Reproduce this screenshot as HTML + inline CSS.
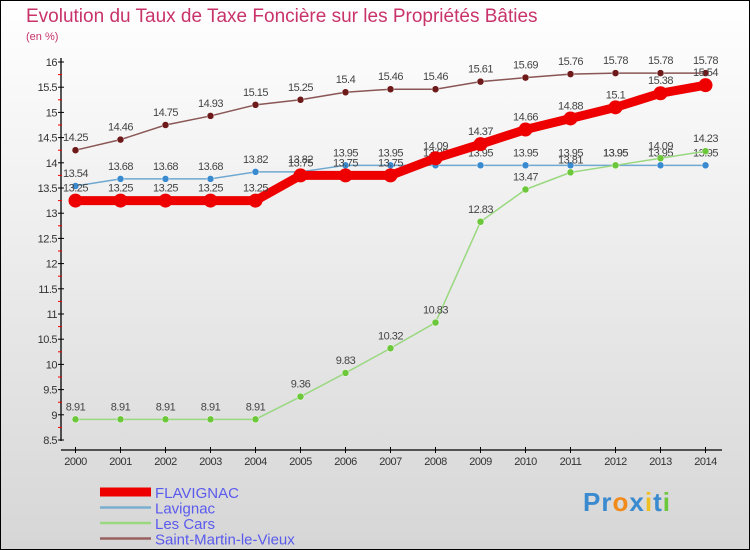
<!DOCTYPE html>
<html><head><meta charset="utf-8"><style>
body{margin:0;width:750px;height:550px;overflow:hidden;font-family:"Liberation Sans",sans-serif}
svg{display:block}
</style></head><body>
<svg id="chart" width="750" height="550" xmlns="http://www.w3.org/2000/svg">
<defs><linearGradient id="bg" x1="0" y1="0" x2="0" y2="1"><stop offset="0" stop-color="#ffffff"/><stop offset="1" stop-color="#d6d6d6"/></linearGradient></defs>
<rect x="0.5" y="0.5" width="749" height="549" fill="url(#bg)" stroke="#000"/>
<text x="26" y="22" font-size="19" fill="#c8336a">Evolution du Taux de Taxe Foncière sur les Propriétés Bâties</text>
<text x="26" y="40" font-size="11" fill="#c8336a">(en %)</text>
<g id="axes"></g>
<g id="series"></g>
<g id="legend"></g>
</svg>
<script>
const years=[2000,2001,2002,2003,2004,2005,2006,2007,2008,2009,2010,2011,2012,2013,2014];
const yTicks=[8.5,9,9.5,10,10.5,11,11.5,12,12.5,13,13.5,14,14.5,15,15.5,16];
const flavignac=[13.25,13.25,13.25,13.25,13.25,13.75,13.75,13.75,14.09,14.37,14.66,14.88,15.1,15.38,15.54];
const lavignac=[13.54,13.68,13.68,13.68,13.82,13.82,13.95,13.95,13.95,13.95,13.95,13.95,13.95,13.95,13.95];
const lesCars=[8.91,8.91,8.91,8.91,8.91,9.36,9.83,10.32,10.83,12.83,13.47,13.81,13.95,14.09,14.23];
const saintMartin=[14.25,14.46,14.75,14.93,15.15,15.25,15.4,15.46,15.46,15.61,15.69,15.76,15.78,15.78,15.78];
const seriesNames=["FLAVIGNAC","Lavignac","Les Cars","Saint-Martin-le-Vieux"];

const NS="http://www.w3.org/2000/svg";
const xS=i=>75.5+i*45;
const yS=v=>440-(v-8.5)*50.4;
function mk(tag,attrs,parent,text){const e=document.createElementNS(NS,tag);for(const k in attrs)e.setAttribute(k,attrs[k]);if(text!==undefined)e.textContent=text;parent.appendChild(e);return e;}
const axes=document.getElementById('axes');
let yl=mk('line',{x1:61,y1:58,x2:61,y2:441,stroke:'#000','stroke-width':1.3},axes);


let xl=mk('line',{x1:61,y1:450,x2:722,y2:450,stroke:'#000','stroke-width':1.3},axes);


yTicks.forEach((v,i)=>{
  const y=yS(v);
  mk('line',{x1:58,y1:y,x2:64,y2:y,stroke:'#000'},axes);
  if(i<yTicks.length-1) mk('line',{x1:58,y1:yS(v+0.25),x2:62,y2:yS(v+0.25),stroke:'#e00'},axes);
  const t=mk('text',{x:57,y:y+4,'font-size':11,'text-anchor':'end',fill:'#333','letter-spacing':'-0.5'},axes,String(v));
  
  
});
years.forEach((yr,i)=>{
  const x=xS(i);
  mk('line',{x1:x,y1:447,x2:x,y2:453,stroke:'#000'},axes);
  const t=mk('text',{x:x,y:465,'font-size':11,'text-anchor':'middle',fill:'#333','letter-spacing':'-0.5'},axes,String(yr));
  
  
});
const sg=document.getElementById('series');
const defs=[
 {d:saintMartin,c:'#6e1a1a',w:1.5,r:3.5,lc:'#8a5555',name:'saint-martin'},
 {d:lavignac,c:'#3a8ad0',w:1.5,r:3.5,lc:'#6fa8d0',name:'lavignac'},
 {d:lesCars,c:'#6cc83a',w:1.5,r:3.5,lc:'#9ad880',name:'les-cars'},
 {d:flavignac,c:'#ee0000',w:9,r:7,lc:'#ee0000',name:'flavignac'}
];
defs.forEach(s=>{
  const g=mk('g',{},sg);
  
  
  const pts=s.d.map((v,i)=>xS(i)+','+yS(v)).join(' ');
  const pl=mk('polyline',{points:pts,fill:'none',stroke:s.lc,'stroke-width':s.w,'stroke-linejoin':'round'},g);
  
  
  s.d.forEach((v,i)=>{
    const c=mk('circle',{cx:xS(i),cy:yS(v),r:s.r,fill:s.c,stroke:s.name==='flavignac'?'none':'#fff','stroke-width':0.5},g);
    
    
    const t=mk('text',{x:xS(i),y:yS(v)-9,'font-size':11,'text-anchor':'middle',fill:'#444','letter-spacing':'-0.5'},g,String(v));
    
    
  });
});
const lg=document.getElementById('legend');
const lcols=['#ee0000','#7aaed0','#9ad880','#9a6060'];
const lw=[9,2.5,2.5,2.5];
seriesNames.forEach((n,i)=>{
  const y=492+i*15.5;
  const g=mk('g',{},lg);
  
  
  mk('line',{x1:100,y1:y,x2:151,y2:y,stroke:lcols[i],'stroke-width':lw[i]},g);
  mk('text',{x:155,y:y+6,'font-size':15,fill:'#5a5aee'},g,n);
});
</script>
<div style="position:absolute;left:583px;top:487px;font:bold 26px 'Liberation Sans',sans-serif;letter-spacing:1px"><span style="color:#3a8ad0">Pr</span><span style="color:#f08a1a">o</span><span style="color:#3a8ad0">x</span><span style="color:#f0c020">i</span><span style="color:#3a8ad0">t</span><span style="color:#6cc83a">i</span></div>
</body></html>
